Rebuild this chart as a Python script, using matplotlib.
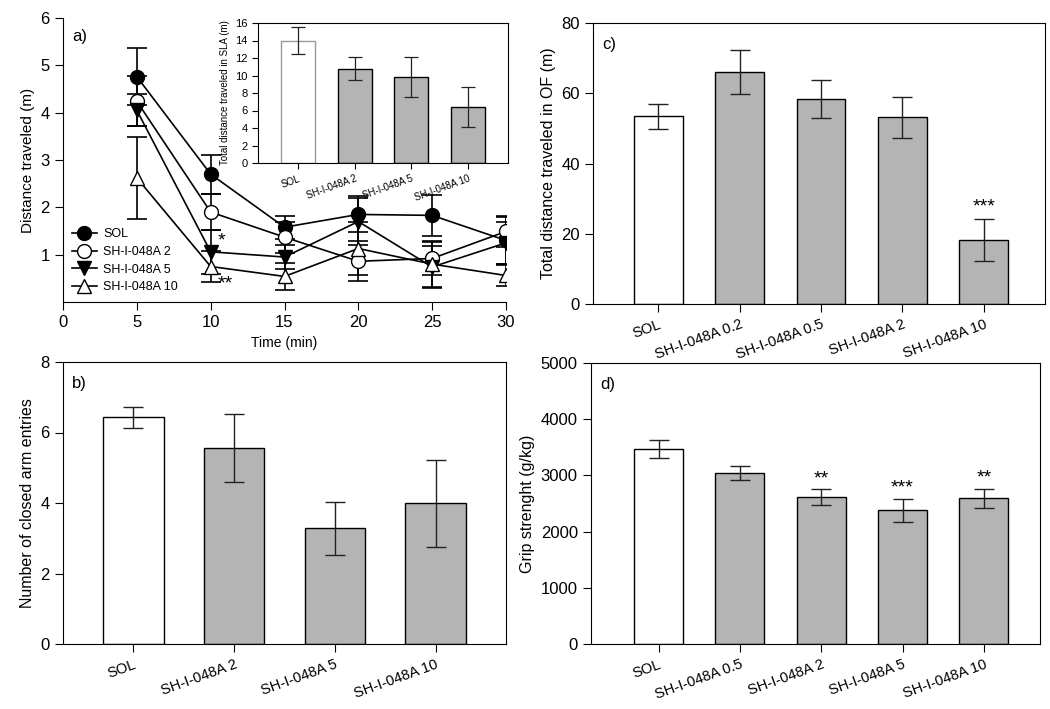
import matplotlib
matplotlib.use("Agg")
import matplotlib.pyplot as plt
from matplotlib.lines import Line2D
import numpy as np

plt.rcParams['font.family'] = ['Liberation Sans', 'DejaVu Sans']

# panel a) distance traveled over time
time_min = [5, 10, 15, 20, 25, 30]
series_names = ["SOL", "SH-I-048A 2", "SH-I-048A 5", "SH-I-048A 10"]
dist_sol = [4.76, 2.70, 1.58, 1.85, 1.83, 1.30]
dist_sol_err = [0.60, 0.41, 0.24, 0.38, 0.43, 0.50]
dist_sh2 = [4.24, 1.90, 1.37, 0.86, 0.92, 1.49]
dist_sh2_err = [0.53, 0.38, 0.33, 0.42, 0.35, 0.33]
dist_sh5 = [4.05, 1.06, 0.95, 1.70, 0.74, 1.25]
dist_sh5_err = [0.34, 0.46, 0.25, 0.50, 0.45, 0.45]
dist_sh10 = [2.62, 0.75, 0.54, 1.13, 0.80, 0.56]
dist_sh10_err = [0.87, 0.33, 0.28, 0.56, 0.49, 0.23]

# inset: total distance in SLA
sla_labels = ["SOL", "SH-I-048A 2", "SH-I-048A 5", "SH-I-048A 10"]
sla_vals = [14.0, 10.8, 9.8, 6.4]
sla_err = [1.5, 1.3, 2.3, 2.25]

# panel b) closed arm entries
epm_labels = ["SOL", "SH-I-048A 2", "SH-I-048A 5", "SH-I-048A 10"]
epm_vals = [6.43, 5.56, 3.28, 3.99]
epm_err = [0.30, 0.97, 0.75, 1.23]

# panel c) total distance in OF
of_labels = ["SOL", "SH-I-048A 0.2", "SH-I-048A 0.5", "SH-I-048A 2", "SH-I-048A 10"]
of_vals = [53.4, 66.0, 58.4, 53.2, 18.1]
of_err = [3.6, 6.2, 5.4, 5.8, 6.0]
of_stars = ["", "", "", "", "***"]

# panel d) grip strength
grip_labels = ["SOL", "SH-I-048A 0.5", "SH-I-048A 2", "SH-I-048A 5", "SH-I-048A 10"]
grip_vals = [3476, 3037, 2610, 2378, 2592]
grip_err = [158, 125, 143, 205, 172]
grip_stars = ["", "", "**", "***", "**"]

W, H = 1050, 709
fig = plt.figure(figsize=(W / 100, H / 100), dpi=100)


def box(l, r, t, b):
    return [l / W, 1 - b / H, (r - l) / W, (b - t) / H]


GRAY = "#b4b4b4"


def bar_panel(ax, labels, vals, errs, stars=None, ylim=None, yticks=None,
              ylabel="", tag="", xlim=None, star_off=0.0):
    x = np.arange(len(labels))
    colors = ["white"] + [GRAY] * (len(labels) - 1)
    ax.bar(x, vals, width=0.6, color=colors, edgecolor="black", linewidth=1.0, zorder=2)
    ax.errorbar(x, vals, yerr=errs, fmt="none", ecolor="#222222", elinewidth=1.0,
                capsize=7, capthick=1.0, zorder=3)
    if stars:
        for xi, v, e, s in zip(x, vals, errs, stars):
            if s:
                ax.text(xi, v + e + star_off, s, ha="center", va="bottom", fontsize=14)
    ax.set_xticks(x)
    ax.set_xticklabels(labels, rotation=20, ha="right", rotation_mode="anchor", fontsize=10.5)
    ax.set_xlim(*xlim)
    ax.set_ylim(*ylim)
    ax.set_yticks(yticks)
    ax.tick_params(axis="y", labelsize=12, direction="out", length=6)
    ax.tick_params(axis="x", direction="out", length=6)
    ax.set_ylabel(ylabel, fontsize=11.5)
    if tag:
        ax.text(0.02, 0.95, tag, transform=ax.transAxes, fontsize=12, va="top")


# panel a
ax_a = fig.add_axes(box(63, 506, 18, 302))
markers = ["o", "o", "v", "^"]
faces = ["black", "white", "black", "white"]
all_vals = [dist_sol, dist_sh2, dist_sh5, dist_sh10]
all_errs = [dist_sol_err, dist_sh2_err, dist_sh5_err, dist_sh10_err]
handles = []
for name, v, e, m, fc in zip(series_names, all_vals, all_errs, markers, faces):
    ax_a.errorbar(time_min, v, yerr=e, color="black", marker=m, markersize=10,
                  markerfacecolor=fc, markeredgecolor="black", linewidth=1.2,
                  elinewidth=1.2, capsize=7, capthick=1.2)
    handles.append(Line2D([], [], color="black", marker=m, markersize=10,
                          markerfacecolor=fc, markeredgecolor="black", linewidth=1.2,
                          label=name))
ax_a.text(10.5, dist_sh5[1] + 0.05, "*", fontsize=14, va="bottom")
ax_a.text(10.5, dist_sh10[1] - 0.55, "**", fontsize=14, va="bottom")
ax_a.set_xlim(0, 30)
ax_a.set_ylim(0, 6)
ax_a.set_xticks([0, 5, 10, 15, 20, 25, 30])
ax_a.set_yticks([1, 2, 3, 4, 5, 6])
ax_a.spines["top"].set_visible(False)
ax_a.spines["right"].set_visible(False)
ax_a.tick_params(labelsize=12, direction="out", length=6)
ax_a.set_xlabel("Time (min)", fontsize=10)
ax_a.set_ylabel("Distance traveled (m)", fontsize=11)
ax_a.text(0.02, 0.96, "a)", transform=ax_a.transAxes, fontsize=12, va="top")
ax_a.legend(handles=handles, loc="lower left", bbox_to_anchor=(0.0, 0.0), frameon=False,
            fontsize=9, handlelength=2.0, borderaxespad=0.3, labelspacing=0.45,
            handletextpad=0.5)

# inset
ax_in = fig.add_axes(box(258, 508, 23, 163))
xi = np.arange(len(sla_labels))
ax_in.bar(xi, sla_vals, width=0.6, color=["white"] + [GRAY] * 3,
          edgecolor=["#999999", "black", "black", "black"], linewidth=1.0, zorder=2)
ax_in.errorbar(xi, sla_vals, yerr=sla_err, fmt="none", ecolor="#222222",
               elinewidth=0.9, capsize=5, capthick=0.9, zorder=3)
ax_in.set_xlim(-0.7, 3.7)
ax_in.set_ylim(0, 16)
ax_in.set_yticks(range(0, 17, 2))
ax_in.set_xticks(xi)
ax_in.set_xticklabels(sla_labels, rotation=20, ha="right", rotation_mode="anchor", fontsize=7)
ax_in.tick_params(axis="y", labelsize=8, length=4)
ax_in.tick_params(axis="x", length=4)
ax_in.set_ylabel("Total distance traveled in SLA (m)", fontsize=7)

# panel b
ax_b = fig.add_axes(box(63, 506, 362, 644))
bar_panel(ax_b, epm_labels, epm_vals, epm_err, ylim=(0, 8), yticks=[0, 2, 4, 6, 8],
          ylabel="Number of closed arm entries", tag="b)", xlim=(-0.7, 3.7))

# panel c
ax_c = fig.add_axes(box(593, 1045, 23, 304))
bar_panel(ax_c, of_labels, of_vals, of_err, stars=of_stars, ylim=(0, 80),
          yticks=[0, 20, 40, 60, 80], ylabel="Total distance traveled in OF (m)",
          tag="c)", xlim=(-0.8, 4.75), star_off=1.0)

# panel d
ax_d = fig.add_axes(box(591, 1040, 363, 644))
bar_panel(ax_d, grip_labels, grip_vals, grip_err, stars=grip_stars, ylim=(0, 5000),
          yticks=[0, 1000, 2000, 3000, 4000, 5000], ylabel="Grip strenght (g/kg)",
          tag="d)", xlim=(-0.83, 4.69), star_off=40)

fig.savefig("out.png", dpi=100)
